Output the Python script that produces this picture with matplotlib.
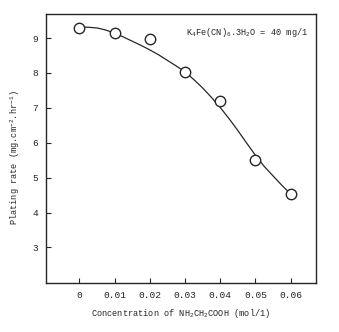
import matplotlib
matplotlib.use('Agg')
import matplotlib.pyplot as plt

plt.rcParams['font.family'] = ['Liberation Mono', 'DejaVu Sans Mono']
plt.rcParams['mathtext.fontset'] = 'custom'
plt.rcParams['mathtext.rm'] = 'Liberation Mono'
plt.rcParams['mathtext.it'] = 'Liberation Mono'
plt.rcParams['mathtext.default'] = 'rm'

# measured points
conc = [0.0, 0.01, 0.02, 0.03, 0.04, 0.05, 0.06]
rate = [9.30, 9.14, 8.96, 8.03, 7.19, 5.50, 4.53]

# fitted curve drawn through the points
curve_x = [0.0, 0.0025, 0.005, 0.0075, 0.01, 0.0125, 0.015, 0.0175, 0.02,
           0.0225, 0.025, 0.0275, 0.03, 0.0325, 0.035, 0.0375, 0.04, 0.0425,
           0.045, 0.0475, 0.05, 0.0525, 0.055, 0.0575, 0.06]
curve_y = [9.32, 9.31, 9.29, 9.23, 9.14, 9.03, 8.91, 8.79, 8.66,
           8.52, 8.36, 8.20, 8.03, 7.81, 7.57, 7.30, 7.01, 6.69,
           6.35, 5.99, 5.64, 5.32, 5.05, 4.78, 4.53]

xticks = [0, 0.01, 0.02, 0.03, 0.04, 0.05, 0.06]
xticklabels = ['0', '0.01', '0.02', '0.03', '0.04', '0.05', '0.06']
yticks = [3, 4, 5, 6, 7, 8, 9]

ink = '#262626'

fig = plt.figure(figsize=(3.39, 3.32), dpi=100)
ax = fig.add_axes([46 / 339, 1 - 283 / 332, 270 / 339, 269 / 332])

ax.plot(curve_x, curve_y, color=ink, linewidth=0.9, solid_joinstyle='round')
ax.plot(conc, rate, linestyle='none', marker='o', markersize=7.5,
        markerfacecolor='white', markeredgecolor=ink, markeredgewidth=1.0)

ax.set_xlim(-0.0095, 0.0672)
ax.set_ylim(1.98, 9.69)
ax.set_xticks(xticks)
ax.set_xticklabels(xticklabels)
ax.set_yticks(yticks)
ax.tick_params(direction='in', length=3.5, width=0.8, labelsize=6.8, colors=ink,
               top=False, right=False, pad=5.5)
for s in ax.spines.values():
    s.set_linewidth(1.0)
    s.set_color(ink)

ax.set_xlabel('Concentration of NH$_2$CH$_2$COOH (mol/1)', fontsize=6.2, color=ink, labelpad=5)
ax.set_ylabel('Plating rate (mg.cm$^{-2}$.hr$^{-1}$)', fontsize=6.2, color=ink)
ax.yaxis.set_label_coords(-0.09, 0.467)

ax.text(0.97, 0.93, 'K$_4$Fe(CN)$_6$.3H$_2$O = 40 mg/1', transform=ax.transAxes,
        ha='right', va='center', fontsize=6.2, color=ink)

fig.savefig('out.png', dpi=100, facecolor='white')
